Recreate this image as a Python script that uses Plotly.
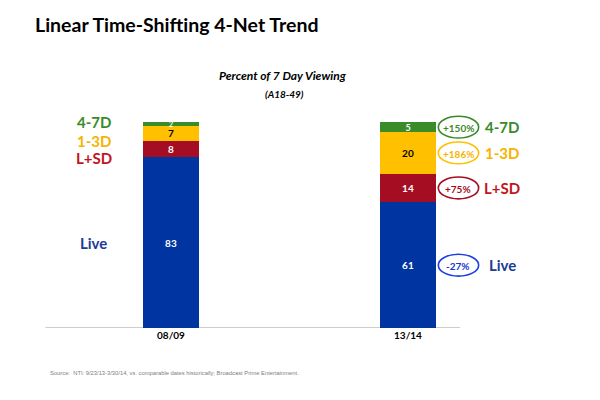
import plotly.graph_objects as go

periods = ["08/09", "13/14"]
segments = ["Live", "L+SD", "1-3D", "4-7D"]
live = [83, 61]
lsd = [8, 14]
d13 = [7, 20]
d47 = [2, 5]
changes = ["-27%", "+75%", "+186%", "+150%"]

series = [live, lsd, d13, d47]
bar_colors = ["#0034A0", "#A50D22", "#FFC000", "#3A8C2A"]
text_colors = ["white", "white", "black", "white"]
text_sizes = [[10, 10], [10, 10], [10, 10], [7, 9]]
label_colors = ["#1C3A94", "#C0141E", "#F5B400", "#3A8A2A"]
ring_colors = ["#1A3FE0", "#A50D22", "#FFC000", "#3A8A2A"]
pct_colors = ["#1A35D0", "#A50D22", "#F5B400", "#3A8A2A"]

# page body has an 8px margin: work in window pixels, shift into figure pixels
OFF = 8
W, H = 600 - OFF, 400 - OFF
X0PX = 171 - OFF      # centre of first bar (figure px)
UNIT_X = 237          # px per category step
BASE_PX = 328 - OFF   # baseline (figure px)
TOP_PX = 100 - OFF
ml, mr, mt, mb = 0, 0, TOP_PX, H - BASE_PX
pw, ph = W - ml - mr, H - mt - mb
PX_PER_UNIT_Y = 2.06

xs = [0, 1]
fig = go.Figure()
for name, vals, c, tc, ts in zip(segments, series, bar_colors, text_colors, text_sizes):
    fig.add_trace(go.Bar(
        x=xs, y=vals, name=name, width=0.24,
        marker=dict(color=c, line=dict(width=0)),
        text=[f"<b>{v}</b>" for v in vals],
        textposition="inside", insidetextanchor="middle",
        constraintext="none", textangle=0,
        textfont=dict(family="Lato", size=ts, color=tc),
        showlegend=False, hoverinfo="skip",
    ))

def mids(i):
    out = []
    for k in range(len(series)):
        lo = sum(series[j][i] for j in range(k))
        out.append(lo + series[k][i] / 2)
    return out

left_mid = mids(0)
right_mid = mids(1)

annotations = []
shapes = []
left_shift = [0, -9, -8, 2]
for k, name in enumerate(segments):
    annotations.append(dict(
        x=-0.325, y=left_mid[k], xref="x", yref="y", yshift=left_shift[k],
        text=f"<b>{name}</b>", showarrow=False,
        font=dict(family="Lato", size=15, color=label_colors[k])))
    annotations.append(dict(
        x=1.397, y=right_mid[k], xref="x", yref="y",
        text=f"<b>{name}</b>", showarrow=False,
        font=dict(family="Lato", size=15, color=label_colors[k])))
    annotations.append(dict(
        x=1.213, y=right_mid[k], xref="x", yref="y", yshift=-1,
        text=f"<b>{changes[k]}</b>", showarrow=False,
        font=dict(family="Lato", size=10, color=pct_colors[k])))
    shapes.append(dict(
        type="circle", xref="x", yref="y",
        x0=1.213 - 0.085, x1=1.213 + 0.085,
        y0=right_mid[k] - 5.3, y1=right_mid[k] + 5.3,
        line=dict(color=ring_colors[k], width=1.6)))

shapes.append(dict(type="line", xref="x", yref="y", x0=-0.53, x1=1.22, y0=0, y1=0,
                   line=dict(color="#BDBDBD", width=1.5), layer="below"))

def px(xp, yp):
    return (xp - OFF - ml) / pw, (H - mb - (yp - OFF)) / ph

header = [
    ("<b>Linear Time-Shifting 4-Net Trend</b>", 33, 24, "left", 19.5, "Lato", "black"),
    ("<b><i>Percent of 7 Day Viewing</i></b>", 283, 76, "center", 12, "Lato", "black"),
    ("<b><i>(A18-49)</i></b>", 284, 94, "center", 10, "Lato", "black"),
    ("Source:  NTI: 9/23/13-3/30/14, vs. comparable dates historically; Broadcast Prime Entertainment.",
     48, 373, "left", 5.8, "Liberation Sans", "#808080"),
]
for txt, xp, yp, anc, sz, fam, col in header:
    xx, yy = px(xp, yp)
    annotations.append(dict(x=xx, y=yy, xref="paper", yref="paper", text=txt, showarrow=False,
                            xanchor=anc, yanchor="middle",
                            font=dict(family=fam, size=sz, color=col)))

fig.update_layout(
    barmode="stack",
    width=W, height=H,
    margin=dict(l=ml, r=mr, t=mt, b=mb),
    paper_bgcolor="white", plot_bgcolor="white",
    xaxis=dict(range=[-X0PX / UNIT_X, (W - X0PX) / UNIT_X], tickvals=xs,
               ticktext=[f"<b>{p}</b>" for p in periods],
               showgrid=False, zeroline=False, showline=False, ticks="",
               tickfont=dict(family="Lato", size=10, color="black")),
    yaxis=dict(range=[0, ph / PX_PER_UNIT_Y], visible=False, showgrid=False),
    annotations=annotations,
    shapes=shapes,
)

fig.write_html("out.html")
